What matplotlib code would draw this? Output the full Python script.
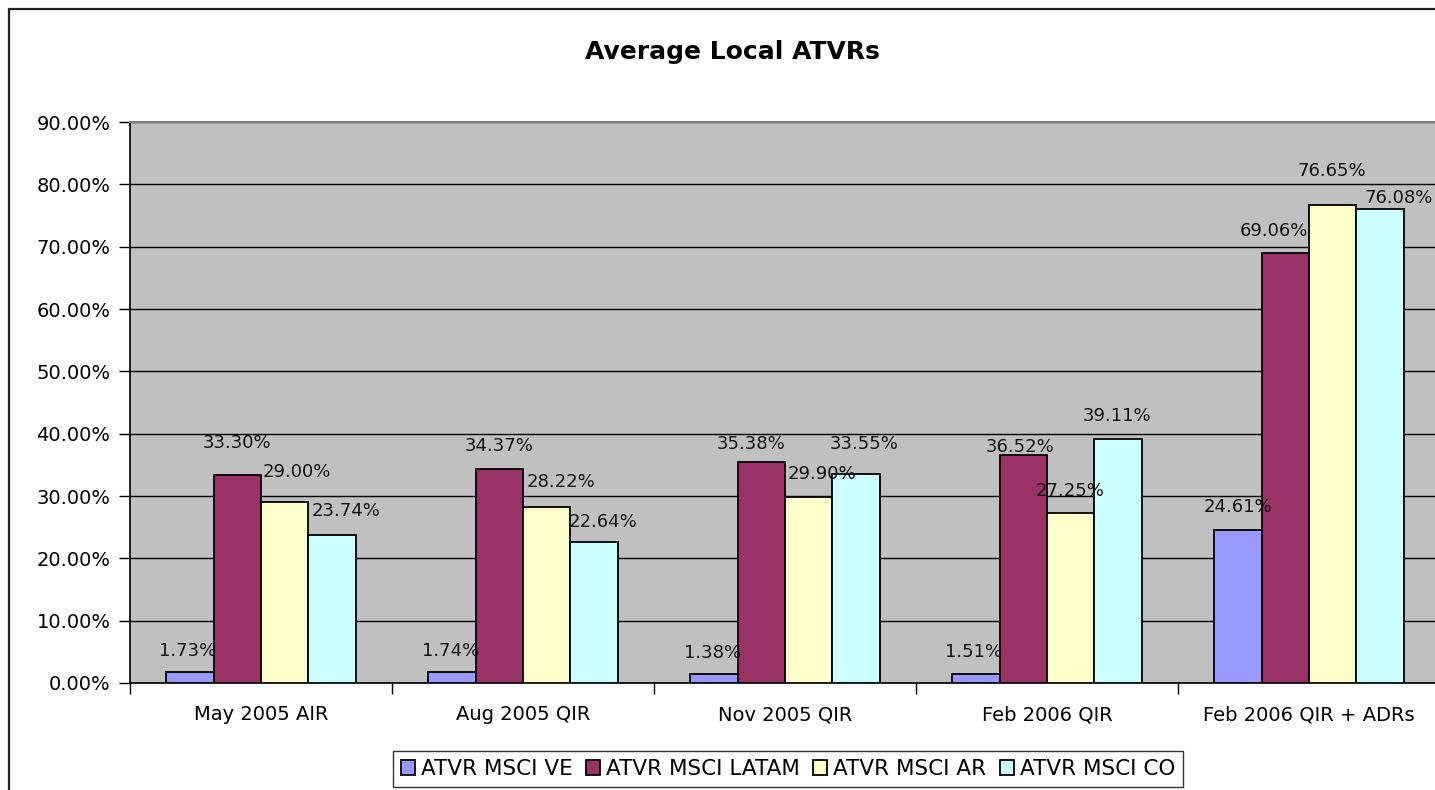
import matplotlib
matplotlib.use("Agg")
import matplotlib.pyplot as plt
import numpy as np
from matplotlib.patches import Rectangle
from matplotlib.ticker import FuncFormatter, MultipleLocator, FixedLocator

# ---------------- data ----------------
categories = ["May 2005 AIR", "Aug 2005 QIR", "Nov 2005 QIR", "Feb 2006 QIR", "Feb 2006 QIR + ADRs"]
series_names = ["ATVR MSCI VE", "ATVR MSCI LATAM", "ATVR MSCI AR", "ATVR MSCI CO"]
atvr_ve = [1.73, 1.74, 1.38, 1.51, 24.61]
atvr_latam = [33.30, 34.37, 35.38, 36.52, 69.06]
atvr_ar = [29.00, 28.22, 29.90, 27.25, 76.65]
atvr_co = [23.74, 22.64, 33.55, 39.11, 76.08]
title = "Average Local ATVRs"

# ---------------- style ----------------
colors = ["#9999FF", "#993366", "#FFFFCC", "#CCFFFF"]
# label nudges (dx, dy) in pixels relative to top-centre of each bar (Excel auto-placement)
label_nudge = [
    [(-2, 21), (-1, 21), (-1, 21), (-2, 22), (0, 23)],
    [(0, 32), (0, 23), (-10, 18), (-3, 8), (-11, 22)],
    [(12, 30), (14, 25), (13, 23), (-1, 22), (-1, 34)],
    [(14, 24), (9, 20), (8, 30), (-1, 23), (19, 11)],
]
FONT = "DejaVu Sans"
plt.rcParams["font.family"] = FONT

W, H = 1435, 790
fig = plt.figure(figsize=(W / 100, H / 100), dpi=100)

# outer chart border (extends past right/bottom edges like the reference)
fig.patches.append(Rectangle((9 / W, -0.05), 1.2, 1 - 9 / H + 0.05, transform=fig.transFigure,
                             fill=False, edgecolor="#222222", linewidth=1.6, zorder=0))

left, right_px, top_px, bottom_px = 130, 1440, 122, 683
ax = fig.add_axes([left / W, 1 - bottom_px / H, (right_px - left) / W, (bottom_px - top_px) / H])
ax.set_facecolor("#C0C0C0")

series = [atvr_ve, atvr_latam, atvr_ar, atvr_co]
x = np.arange(len(categories))
bw = 0.181
for i, (vals, col) in enumerate(zip(series, colors)):
    xs = x + (i - 1.5) * bw
    ax.bar(xs, vals, width=bw, color=col, edgecolor="black", linewidth=1.3,
           zorder=3, label=series_names[i])
    for j, (xx, v) in enumerate(zip(xs, vals)):
        dx, dy = label_nudge[i][j]
        ax.annotate(f"{v:.2f}%", xy=(xx, v), xytext=(dx, dy), textcoords="offset pixels",
                    ha="center", va="center", fontsize=13, color="#111111", zorder=5)

ax.set_xlim(-0.5, len(categories) - 0.5)
ax.set_ylim(0, 90)
ax.yaxis.set_major_locator(MultipleLocator(10))
ax.yaxis.set_major_formatter(FuncFormatter(lambda v, p: f"{v:.2f}%"))
ax.grid(axis="y", color="black", linewidth=1.0, zorder=1)
ax.set_axisbelow(True)

ax.set_xticks(x)
ax.set_xticklabels(categories)
ax.xaxis.set_minor_locator(FixedLocator(np.arange(-0.5, len(categories), 1.0)))
ax.tick_params(axis="x", which="major", length=0, pad=16, labelsize=14)
ax.tick_params(axis="x", which="minor", length=8, width=1, color="black", direction="out")
ax.tick_params(axis="y", length=8, width=1, color="black", direction="out", pad=6, labelsize=14)

for s in ["top", "right"]:
    ax.spines[s].set_color("#808080")
    ax.spines[s].set_linewidth(1.5)
ax.spines["left"].set_color("black")
ax.spines["bottom"].set_color("black")
ax.spines["left"].set_linewidth(1.2)
ax.spines["bottom"].set_linewidth(1.2)

fig.text(732 / W, 1 - 52 / H, title, ha="center", va="center", fontsize=18, fontweight="bold")

handles, labels = ax.get_legend_handles_labels()
leg = fig.legend(handles, labels, loc="center", bbox_to_anchor=(788 / W, 1 - 769 / H), ncol=4,
                 fontsize=15.5, frameon=True, fancybox=False, edgecolor="black",
                 handlelength=0.65, handleheight=0.65, handletextpad=0.3, columnspacing=0.6,
                 borderpad=0.35, borderaxespad=0)
leg.get_frame().set_linewidth(1.0)

fig.savefig("out.png", dpi=100)
